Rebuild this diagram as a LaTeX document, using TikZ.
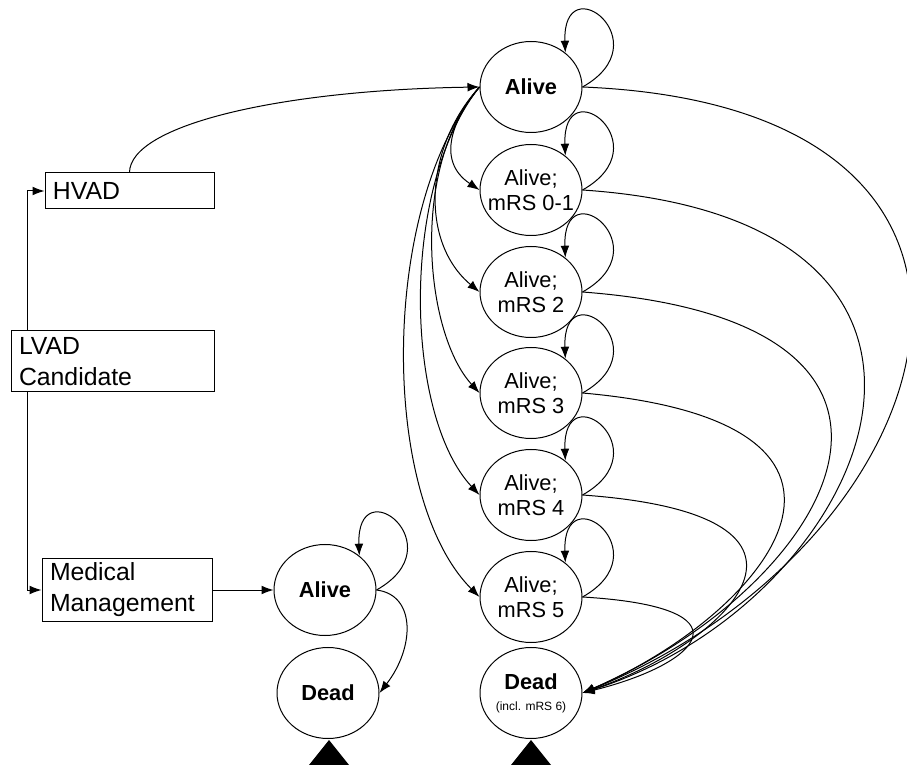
\documentclass[tikz,border=0pt]{standalone}
\usepackage{fontspec}
\setmainfont{Liberation Sans}
\usetikzlibrary{shapes.geometric, arrows.meta}
\tikzstyle{state}=[draw, ellipse, minimum width=51pt, minimum height=45.5pt,
inner xsep=-6pt, inner ysep=0pt, align=center, font=\fontsize{10.9}{12.5}\selectfont]
\tikzstyle{branch}=[draw, rectangle, inner xsep=4pt, inner ysep=0pt, align=left,
font=\fontsize{12.4}{15.5}\selectfont]
\tikzstyle{term}=[fill=black]

\begin{document}
\begin{tikzpicture}[x=0.5pt,y=-0.5pt,line width=0.5pt,>={Latex[length=6pt,width=4.4pt]}]
      \useasboundingbox (0,0) rectangle (907,765);
      % decision boxes
      \node [branch, text width=76.5pt, minimum height=18pt] (hvad) at (129.5,191) {HVAD};
      \node [branch, text width=93.5pt, minimum height=30.5pt] (lvad) at (112.5,361.5) {LVAD\\Candidate};
      \node [branch, text width=77pt, minimum height=31pt] (mm) at (127,590) {Medical\\Management};
      % HVAD states
      \node [state] (a0) at (531,87) {\textbf{Alive}};
      \node [state] (a1) at (531,190) {Alive;\\mRS 0-1};
      \node [state] (a2) at (531,292) {Alive;\\mRS 2};
      \node [state] (a3) at (531,393) {Alive;\\mRS 3};
      \node [state] (a4) at (531,495) {Alive;\\mRS 4};
      \node [state] (a5) at (531,597) {Alive;\\mRS 5};
      \node [state] (hd) at (531,693) {\textbf{Dead}\\[-2pt]{\fontsize{6}{7}\selectfont(incl. mRS 6)}};
      % medical management states
      \node [state] (ma) at (325,590) {\textbf{Alive}};
      \node [state] (md) at (328,693) {\textbf{Dead}};
      % terminal markers
      \fill [term] (531,740) -- (511,765) -- (551,765) -- cycle;
      \fill [term] (329,740) -- (309,765) -- (349,765) -- cycle;
      % branches
      \draw[->] ([xshift=8.5pt]lvad.north west) |- (hvad.west);
      \draw[->] ([xshift=8.5pt]lvad.south west) |- (mm.west);
      \draw[->] (mm.east) -- (ma.west);
      \draw[->] (hvad.north) .. controls (130,125) and (280,90) .. (a0.west);
      % staying in a state
      \foreach \n in {a0,a1,a2,a3,a4,a5,ma}
        \draw[->] (\n.east) .. controls +(80,-45) and +(-3,-88) .. (\n.45);
      % to the mRS states
      \draw[->] (a0.west) .. controls +(-25,30) and +(-45,-30) .. (a1.west);
      \draw[->] (a0.west) .. controls +(-55,60) and +(-60,-50) .. (a2.west);
      \draw[->] (a0.west) .. controls +(-70,80) and +(-55,-60) .. (a3.west);
      \draw[->] (a0.west) .. controls +(-80,100) and +(-75,-80) .. (a4.west);
      \draw[->] (a0.west) .. controls +(-100,120) and +(-100,-100) .. (a5.west);
      % to death
      \draw[->] (a0.east) .. controls +(500,20) and +(369,-150) .. (hd.east);
      \draw[->] (a1.east) .. controls +(450,30) and +(291,-93) .. (hd.east);
      \draw[->] (a2.east) .. controls +(400,30) and +(253,-110) .. (hd.east);
      \draw[->] (a3.east) .. controls +(340,30) and +(185,-80) .. (hd.east);
      \draw[->] (a4.east) .. controls +(280,20) and +(145,-50) .. (hd.east);
      \draw[->] (a5.east) .. controls +(170,10) and +(120,-30) .. (hd.east);
      \draw[->] (ma.east) .. controls +(40,5) and +(35,-45) .. (md.east);
  \end{tikzpicture}
\end{document}
